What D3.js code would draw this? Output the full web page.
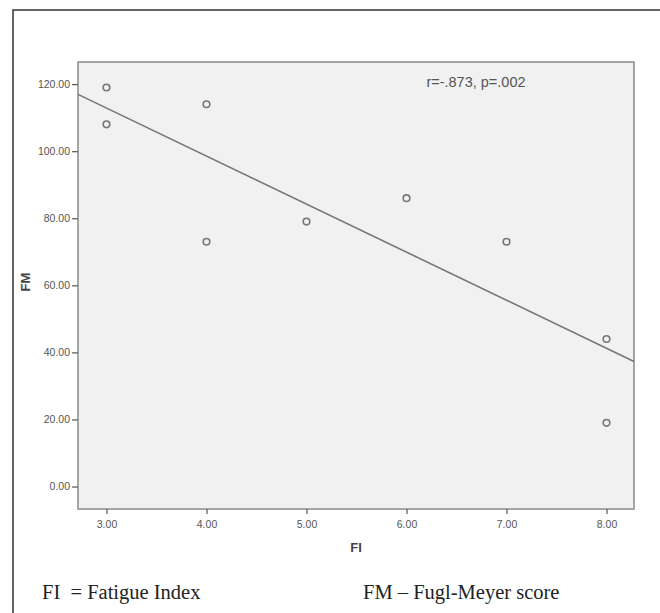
<!DOCTYPE html>
<html lang="en">
<head>
    <meta charset="UTF-8">
    <title>FI vs FM</title>
    <script src="https://cdn.jsdelivr.net/npm/d3@7/dist/d3.min.js"></script>
    <style>
        *{ padding:0; margin:0; }
        body{ background:#fff; }
        svg{ position:absolute; top:0; left:0; }
    </style>
</head>
<body>
<script>
    // data
    let fiValues = [3, 3, 4, 4, 5, 6, 7, 8, 8];
    let fmValues = [119, 108, 114, 73, 79, 86, 73, 44, 19];
    let xTicks = [3, 4, 5, 6, 7, 8];
    let yTicks = [0, 20, 40, 60, 80, 100, 120];
    let statText = "r=-.873, p=.002";
    let noteLeft = "FI  = Fatigue Index";
    let noteRight = "FM \u2013 Fugl-Meyer score";

    let grey = "#777";
    let plot = {left:78, top:62, right:634, bottom:509};

    var svg = d3.select("body").append("svg")
        .attr("width", 660)
        .attr("height", 613);

    // outer frame (right/bottom run off the page)
    svg.append("rect")
        .attr("x", 13).attr("y", 10)
        .attr("width", 700).attr("height", 700)
        .attr("fill", "none")
        .attr("stroke", "#333")
        .attr("stroke-width", 1.5);

    let x = d3.scaleLinear().domain([2.715, 8.275]).range([plot.left, plot.right]);
    let y = d3.scaleLinear().domain([-6.7, 126.6]).range([plot.bottom, plot.top]);

    svg.append("rect")
        .attr("x", plot.left).attr("y", plot.top)
        .attr("width", plot.right - plot.left)
        .attr("height", plot.bottom - plot.top)
        .attr("fill", "#f1f1f1")
        .attr("stroke", "#8a8a8a")
        .attr("stroke-width", 1.5);

    // axes
    let xAxis = d3.axisBottom(x).tickValues(xTicks).tickSize(5).tickFormat(d3.format(".2f"));
    let yAxis = d3.axisLeft(y).tickValues(yTicks).tickSize(6).tickFormat(d3.format(".2f"));

    let gx = svg.append("g").attr("transform", "translate(0," + plot.bottom + ")").call(xAxis);
    let gy = svg.append("g").attr("transform", "translate(" + plot.left + ",0)").call(yAxis);
    [gx, gy].forEach(function(g){
        g.select(".domain").remove();
        g.selectAll(".tick line").attr("stroke", "#555").attr("stroke-width", 1.2);
        g.selectAll(".tick text")
            .attr("fill", "#555")
            .style("font-family", "Liberation Sans, Arial, sans-serif")
            .style("font-size", "10.5px");
    });
    gx.selectAll(".tick text").attr("dy", "1.05em");
    gy.selectAll(".tick text").attr("x", -8);

    // regression line from the points
    let n = fiValues.length;
    let mx = d3.mean(fiValues), my = d3.mean(fmValues);
    let sxy = 0, sxx = 0;
    for(let i=0;i<n;i++){
        sxy += (fiValues[i]-mx)*(fmValues[i]-my);
        sxx += (fiValues[i]-mx)*(fiValues[i]-mx);
    }
    let slope = sxy/sxx;
    let icpt = my - slope*mx;
    let xd = x.domain();
    svg.append("line")
        .attr("x1", x(xd[0])).attr("y1", y(icpt + slope*xd[0]))
        .attr("x2", x(xd[1])).attr("y2", y(icpt + slope*xd[1]))
        .attr("stroke", grey)
        .attr("stroke-width", 1.6);

    // points
    let pts = fiValues.map(function(v,i){ return {fi:v, fm:fmValues[i]}; });
    svg.selectAll("circle.pt").data(pts).enter().append("circle")
        .attr("class", "pt")
        .attr("cx", function(d){ return x(d.fi); })
        .attr("cy", function(d){ return y(d.fm); })
        .attr("r", 3.3)
        .attr("fill", "none")
        .attr("stroke", grey)
        .attr("stroke-width", 1.6);

    svg.append("text")
        .attr("x", 476).attr("y", 87)
        .attr("text-anchor", "middle")
        .attr("fill", "#555")
        .style("font-family", "Liberation Sans, Arial, sans-serif")
        .style("font-size", "14.5px")
        .text(statText);

    // axis titles
    svg.append("text")
        .attr("x", (plot.left + plot.right)/2).attr("y", 552)
        .attr("text-anchor", "middle")
        .attr("fill", "#444")
        .style("font-family", "Liberation Sans, Arial, sans-serif")
        .style("font-weight", "bold")
        .style("font-size", "13px")
        .text("FI");
    svg.append("text")
        .attr("transform", "translate(30,282) rotate(-90)")
        .attr("text-anchor", "middle")
        .attr("fill", "#444")
        .style("font-family", "Liberation Sans, Arial, sans-serif")
        .style("font-weight", "bold")
        .style("font-size", "13px")
        .text("FM");

    // footnotes
    svg.append("text")
        .attr("x", 42).attr("y", 599)
        .attr("fill", "#222")
        .style("font-family", "Liberation Serif, Times New Roman, serif")
        .style("font-size", "20.5px")
        .style("white-space", "pre")
        .text(noteLeft);
    svg.append("text")
        .attr("x", 363).attr("y", 599)
        .attr("fill", "#222")
        .style("font-family", "Liberation Serif, Times New Roman, serif")
        .style("font-size", "20.5px")
        .text(noteRight);
</script>
</body>
</html>
